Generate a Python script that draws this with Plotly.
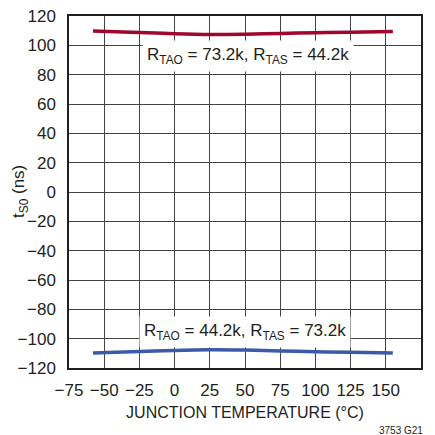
import plotly.graph_objects as go

temps = [-58, -25, 0, 25, 50, 75, 100, 125, 155]
ts0_pos = [109.7, 108.8, 107.9, 107.4, 107.6, 108.1, 108.6, 109.0, 109.4]
ts0_neg = [-109.8, -108.8, -108.0, -107.6, -107.8, -108.4, -108.9, -109.3, -109.8]

x_ticks = [-75, -50, -25, 0, 25, 50, 75, 100, 125, 150, 175]
y_ticks = list(range(-120, 121, 20))

def lbl(v):
    return str(v).replace("-", "\u2212")

FONT = "Liberation Sans Narrow, Arial Narrow, Liberation Sans, sans-serif"
INK = "#231f20"

fig = go.Figure()
fig.add_trace(go.Scatter(x=temps, y=ts0_pos, mode="lines", line=dict(color="#A0062E", width=3.5, shape="spline"), showlegend=False))
fig.add_trace(go.Scatter(x=temps, y=ts0_neg, mode="lines", line=dict(color="#3A5BA9", width=3.5, shape="spline"), showlegend=False))

fig.add_annotation(x=52, y=92.5, xref="x", yref="y",
                   text="R<sub>TAO</sub> = 73.2k, R<sub>TAS</sub> = 44.2k",
                   showarrow=False, bgcolor="white", borderpad=4,
                   font=dict(family=FONT, size=17, color=INK))
fig.add_annotation(x=50, y=-95.5, xref="x", yref="y",
                   text="R<sub>TAO</sub> = 44.2k, R<sub>TAS</sub> = 73.2k",
                   showarrow=False, bgcolor="white", borderpad=4,
                   font=dict(family=FONT, size=17, color=INK))
fig.add_annotation(x=1.0, y=0, xref="paper", yref="paper", yshift=-62, xshift=4,
                   xanchor="right", yanchor="middle", text="3753 G21", showarrow=False,
                   font=dict(family=FONT, size=10, color=INK))
fig.add_annotation(x=0, y=0.5, xref="paper", yref="paper", xshift=-49,
                   xanchor="center", yanchor="middle", textangle=-90,
                   text="t<sub>S0</sub> (ns)", showarrow=False,
                   font=dict(family=FONT, size=17, color=INK))

fig.update_xaxes(range=[-75, 175], tickvals=x_ticks, ticktext=[lbl(v) for v in x_ticks],
                 showgrid=True, gridcolor="#444", gridwidth=1, zeroline=False,
                 showline=True, linecolor=INK, linewidth=1.5, mirror=True,
                 ticks="", ticklabelstandoff=6, automargin=False,
                 title=dict(text="JUNCTION TEMPERATURE (°C)", standoff=8,
                            font=dict(family=FONT, size=16, color=INK)),
                 tickfont=dict(family=FONT, size=17, color=INK))
fig.update_yaxes(range=[-120, 120], tickvals=y_ticks, ticktext=[lbl(v) for v in y_ticks],
                 showgrid=True, gridcolor="#444", gridwidth=1, zeroline=False,
                 showline=True, linecolor=INK, linewidth=1.5, mirror=True,
                 ticks="", ticklabelstandoff=8, automargin=False,
                 tickfont=dict(family=FONT, size=17, color=INK))

fig.update_layout(width=435, height=435, margin=dict(l=69, r=14, t=16, b=67),
                  plot_bgcolor="white", paper_bgcolor="white")

fig.write_html("out.html")
